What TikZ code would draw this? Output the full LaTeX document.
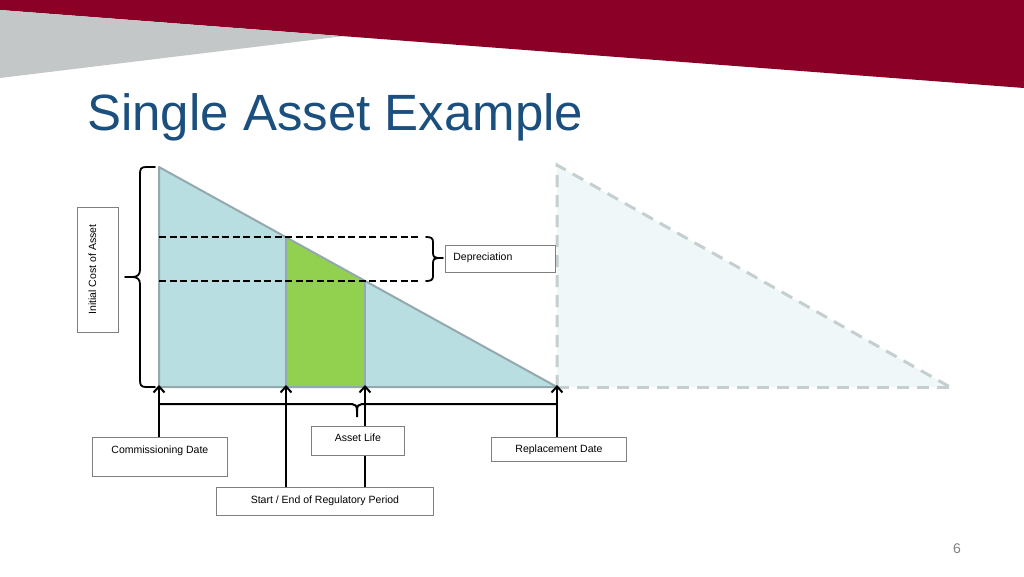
\documentclass[tikz,border=0pt]{standalone}
\usepackage{fontspec}
\setmainfont{Liberation Sans}
\usetikzlibrary{arrows.meta}
\definecolor{hdrred}{HTML}{8A0026}
\definecolor{hdrgrey}{HTML}{C4C7C8}
\definecolor{ttl}{HTML}{1B4F7E}
\definecolor{tri}{HTML}{B9DEE2}
\definecolor{triedge}{HTML}{93A9AE}
\definecolor{grn}{HTML}{92D050}
\definecolor{ghostfill}{HTML}{EFF7F8}
\definecolor{ghostedge}{HTML}{C5CFCF}
\definecolor{boxedge}{HTML}{7F7F7F}
\tikzset{
  lbl/.style={draw=boxedge, line width=0.8pt, fill=white, font=\fontsize{10.5}{12}\selectfont, inner xsep=4pt, inner ysep=4pt, anchor=north west, align=center},
  arr/.style={line width=2pt, -{Straight Barb[length=6pt,width=11pt,line width=2pt]}},
  brc/.style={line width=1.8pt, line cap=round, line join=round},
  dsh/.style={line width=1.8pt, dash pattern=on 7pt off 3.5pt},
}
\begin{document}
\begin{tikzpicture}[x=1pt,y=-1pt]
\useasboundingbox (0,0) rectangle (1024,576);
% header
\fill[hdrred] (0,0) -- (1024,0) -- (1024,88) -- (0,10) -- cycle;
\fill[hdrgrey] (0,10) -- (343,36.2) -- (0,78) -- cycle;
\node[anchor=base west, text=ttl, font=\fontsize{51}{56}\selectfont, inner sep=0pt] (title) at (87,130) {Single Asset Example};
% ghost triangle
\fill[ghostfill] (557,165) -- (950,387) -- (557,387) -- cycle;
\draw[ghostedge, line width=3pt, dash pattern=on 12pt off 8pt] (557,387) -- (557,165) -- (950,387);
\draw[ghostedge, line width=3pt, dash pattern=on 12pt off 8pt] (557,387) -- (957,387);
% main triangle
\coordinate (T) at (159,167);
\coordinate (A) at (159,387);
\coordinate (B) at (286,387);
\coordinate (C) at (365,387);
\coordinate (D) at (557,387);
\coordinate (Bt) at (286,237.2);
\coordinate (Ct) at (365,280.9);
\fill[tri] (T) -- (D) -- (A) -- cycle;
\fill[grn] (B) -- (Bt) -- (Ct) -- (C) -- cycle;
\draw[triedge, line width=2pt, line join=round] (T) -- (D) -- (A) -- cycle;
\draw[triedge, line width=2pt] (B) -- (Bt);
\draw[triedge, line width=2pt] (C) -- (Ct);
% dashed levels
\coordinate (d1) at (418,237);
\coordinate (d2) at (418,281);
\draw[dsh] (159,237) -- (d1);
\draw[dsh] (159,281) -- (d2);
% depreciation brace
\draw[brc] (426,237) .. controls (431,237) and (433,238) .. (433,242) -- (433,253)
  .. controls (433,257) and (435,258) .. (438,258) -- (443,258);
\draw[brc] (438,258) .. controls (435,258) and (433,259) .. (433,263) -- (433,276)
  .. controls (433,280) and (431,281) .. (426,281);
% left brace
\draw[brc] (155,167) -- (146,167) .. controls (141,167) and (140,169) .. (140,174) -- (140,270)
  .. controls (140,275) and (137,277) .. (132,277) -- (125,277);
\draw[brc] (132,277) .. controls (137,277) and (140,279) .. (140,284) -- (140,380)
  .. controls (140,385) and (141,387) .. (146,387) -- (155,387);
% horizontal brace line
\draw[line width=2pt] (159,404) -- (352,404) .. controls (355,404) and (357,406) .. (357,410) -- (357,417);
\draw[line width=2pt] (557,404) -- (362,404) .. controls (359,404) and (357,406) .. (357,410);
% boxes
\node[lbl, minimum width=41pt, text height=15pt, text depth=18pt, minimum height=41pt, rotate=90, anchor=center] (init) at (97.5,269.5) {\makebox[117pt]{Initial Cost of Asset}};
\node[lbl, text width=94pt, inner xsep=8pt, align=left, text height=11pt, text depth=8pt] (dep) at (445,245) {Depreciation};
\node[lbl, minimum width=135pt, text height=12pt, text depth=19pt] (comm) at (92,437) {Commissioning Date};
\node[lbl, minimum width=135pt, text height=11pt, text depth=5pt] (repl) at (491,437) {Replacement Date};
\node[lbl, minimum width=217pt, text height=12pt, text depth=8pt] (start) at (216,487) {Start / End of Regulatory Period};
% arrows
\draw[arr] (comm.north -| A) -- ([yshift=2pt]A);
\draw[arr] (start.north -| B) -- ([yshift=2pt]B);
\draw[arr] (start.north -| C) -- ([yshift=2pt]C);
\draw[arr] (repl.north -| D) -- ([yshift=2pt]D);
\node[lbl, minimum width=93pt, text height=11pt, text depth=10pt] (life) at (311,426) {Asset Life};
% page number
\node[text=gray, font=\fontsize{14}{16}\selectfont] (pg) at (957,549) {6};
\end{tikzpicture}
\end{document}
